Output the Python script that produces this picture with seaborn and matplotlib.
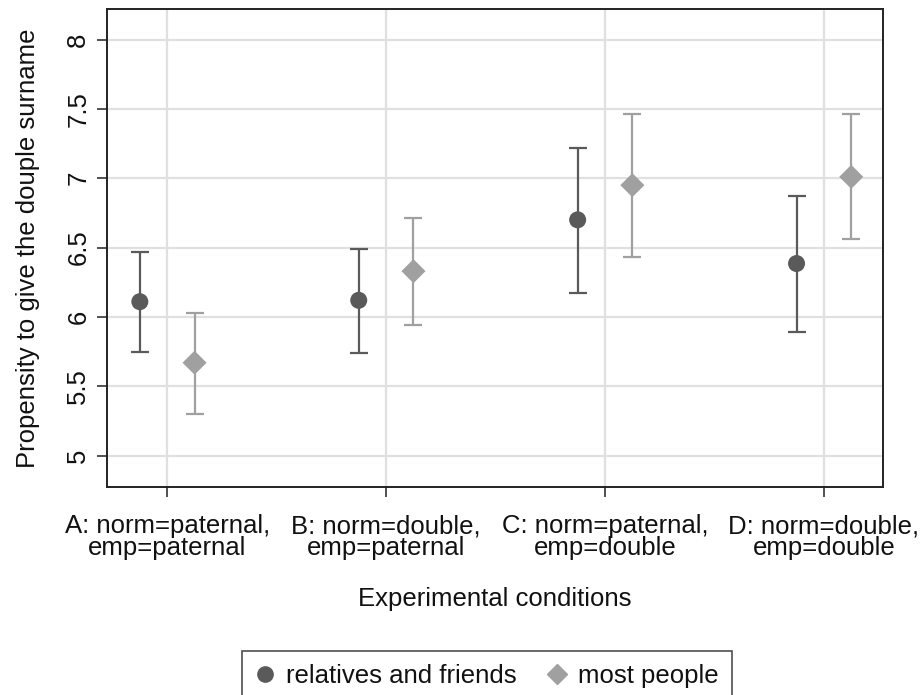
import numpy as np
import pandas as pd
import matplotlib
matplotlib.use("Agg")
import matplotlib.pyplot as plt
import seaborn as sns
from matplotlib.lines import Line2D

categories = ["A: norm=paternal,\nemp=paternal", "B: norm=double,\nemp=paternal",
              "C: norm=paternal,\nemp=double", "D: norm=double,\nemp=double"]
groups = ["relatives and friends", "most people"]
rel_mean = [6.11, 6.12, 6.70, 6.385]
rel_lo = [5.75, 5.74, 6.17, 5.895]
rel_hi = [6.465, 6.49, 7.22, 6.875]
most_mean = [5.67, 6.33, 6.95, 7.01]
most_lo = [5.30, 5.945, 6.435, 6.565]
most_hi = [6.03, 6.71, 7.46, 7.465]
yticks = [5, 5.5, 6, 6.5, 7, 7.5, 8]

sns.set_theme(style="white")
plt.rcParams['font.family'] = ['Liberation Sans', 'DejaVu Sans']
plt.rcParams.update({"text.color": "#111111", "axes.labelcolor": "#111111",
                     "xtick.color": "#333333", "ytick.color": "#333333",
                     "xtick.labelcolor": "#111111", "ytick.labelcolor": "#111111"})

FS = 18.5
fig = plt.figure(figsize=(9.21, 6.95), dpi=100)
ax = fig.add_axes([107/921, 1-487/695, (883-107)/921, (487-9)/695])

colors = {"relatives and friends": "#5a5a5a", "most people": "#a0a0a0"}
offsets = {"relatives and friends": -0.125, "most people": 0.125}
markers = {"relatives and friends": "o", "most people": "D"}

rows = []
for g, m, lo, hi in [(groups[0], rel_mean, rel_lo, rel_hi), (groups[1], most_mean, most_lo, most_hi)]:
    for i, c in enumerate(categories):
        rows.append(dict(group=g, cond=c, idx=i, x=i + offsets[g], mean=m[i], lo=lo[i], hi=hi[i]))
df = pd.DataFrame(rows)

for g in groups:
    d = df[df.group == g]
    ax.errorbar(d.x, d["mean"], yerr=[d["mean"] - d.lo, d.hi - d["mean"]], fmt="none",
                ecolor=colors[g], elinewidth=1.6, capsize=6.5, capthick=1.6, zorder=3)

sns.scatterplot(data=df, x="x", y="mean", hue="group", style="group",
                palette=colors, markers=markers, hue_order=groups, style_order=groups,
                s=150, linewidth=0, ax=ax, zorder=4, legend=False)

ax.set_xlim(-0.275, 3.27)
ax.set_ylim(4.774, 8.22)
ax.set_xticks(range(len(categories)))
ax.set_xticklabels(categories, fontsize=FS, linespacing=0.9)
ax.set_yticks(yticks)
ax.set_yticklabels([f"{v:g}" for v in yticks], fontsize=FS, rotation=90, va="center")
ax.grid(True, color="#e0e0e0", linewidth=1.6)
ax.set_axisbelow(True)
for s in ax.spines.values():
    s.set_color("#222222")
    s.set_linewidth(1.4)
ax.tick_params(axis="y", direction="out", length=7, width=1.2, left=True, pad=5)
ax.tick_params(axis="x", direction="out", length=7.5, width=1.2, bottom=True, pad=12)
ax.set_xlabel("Experimental conditions", fontsize=FS, labelpad=19)
ax.set_ylabel("Propensity to give the douple surname", fontsize=FS, labelpad=19)

handles = [Line2D([], [], marker="o", linestyle="none", color=colors[groups[0]], markersize=11),
           Line2D([], [], marker="D", linestyle="none", color=colors[groups[1]], markersize=10)]
leg = fig.legend(handles, groups, loc="upper center", bbox_to_anchor=(487/921, 1-651/695),
                 ncol=2, fontsize=FS, frameon=True, fancybox=False, edgecolor="#222222",
                 handletextpad=0.45, columnspacing=1.2, borderpad=0.5, handlelength=0.75,
                 borderaxespad=0)
leg.get_frame().set_linewidth(1.2)

fig.savefig("out.png", dpi=100)
